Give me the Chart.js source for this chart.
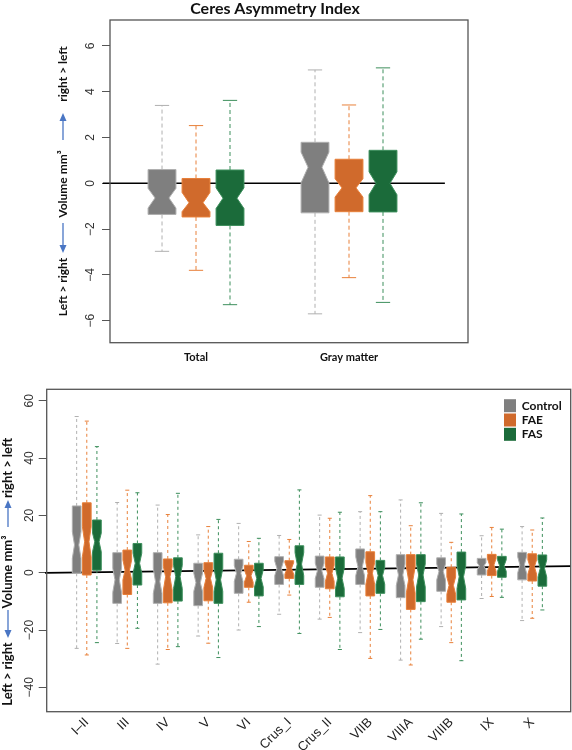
<!DOCTYPE html>
<html lang="en">
<head>
<meta charset="UTF-8">
<title>Ceres Asymmetry Index</title>
<script src="https://cdn.jsdelivr.net/npm/chart.js"></script>
<style>
  body { margin: 0; background: #fff; }
  canvas { position: absolute; left: 0; }
  #topChart { top: 0; }
  #bottomChart { top: 370px; }
</style>
</head>
<body>
<canvas id="topChart" width="572" height="370"></canvas>
<canvas id="bottomChart" width="572" height="380"></canvas>

<script>
// groups, in the order they sit inside each category
var groupNames = ["Control", "FAE", "FAS"];
var boxFill = ["#7f7f7f", "#d06a2c", "#1b6b3a"];
var boxEdge = ["#b0b0b0", "#e8803a", "#3d8f5c"];

// top panel, rows = categories, columns = Control, FAE, FAS
var topCategories = ["Total", "Gray matter"];
var topTicks = [-6, -4, -2, 0, 2, 4, 6];
var topMin     = [[-2.97, -3.80, -5.30], [-5.70, -4.12, -5.20]];
var topQ1      = [[-1.36, -1.47, -1.84], [-1.29, -1.24, -1.25]];
var topMed     = [[-0.64, -0.85, -0.65], [ 0.70, -0.20,  0.00]];
var topQ3      = [[ 0.60,  0.21,  0.58], [ 1.79,  1.05,  1.44]];
var topMax     = [[ 3.40,  2.52,  3.62], [ 4.95,  3.42,  5.04]];
var topNotchLo = [[-1.08, -1.24, -1.10], [ 0.02, -0.60, -0.50]];
var topNotchHi = [[-0.22, -0.40, -0.20], [ 1.36,  0.20,  0.50]];

// bottom panel (lobules)
var botCategories = ["I\u2013II", "III", "IV", "V", "VI", "Crus_I", "Crus_II", "VIIB", "VIIIA", "VIIIB", "IX", "X"];
var botTicks = [-40, -20, 0, 20, 40, 60];
var botMin = [
  [-26.4, -28.7, -24.4], [-24.7, -26.4, -19.4], [-31.9, -26.8, -25.8], [-22.1, -24.6, -29.6],
  [-20.0, -10.3, -18.8], [-14.5, -7.8, -21.2], [-16.2, -15.6, -26.8], [-20.9, -29.9, -19.8],
  [-30.5, -32.2, -23.2], [-18.8, -24.4, -30.7], [-9.0, -8.3, -8.6], [-16.7, -15.9, -13.0]];
var botQ1 = [
  [-0.2, -0.8, 0.9], [-10.7, -7.6, -4.3], [-10.7, -10.5, -9.9], [-11.5, -9.8, -10.7],
  [-7.2, -5.1, -8.1], [-4.1, -2.0, -4.1], [-5.1, -5.6, -8.4], [-4.1, -8.1, -7.2],
  [-8.7, -12.8, -10.1], [-6.5, -10.3, -9.5], [-0.8, -1.0, -1.6], [-2.5, -2.9, -4.7]];
var botMed = [
  [9.7, 10.8, 10.8], [-2.5, 0.9, 3.3], [-3.1, -1.4, -1.4], [-3.5, -2.0, -2.5],
  [-0.2, -1.1, -2.0], [1.5, 1.5, 3.0], [0.7, -0.2, -1.9], [2.1, -0.2, -1.0],
  [-0.8, -2.5, -0.8], [0.4, -4.4, -1.4], [2.3, 2.7, 2.4], [2.7, 2.1, 1.5]];
var botQ3 = [
  [23.3, 24.4, 18.4], [7.0, 7.9, 10.2], [7.0, 4.8, 5.2], [3.3, 3.5, 6.8],
  [4.7, 2.6, 3.3], [5.6, 4.2, 9.4], [5.8, 5.5, 5.5], [8.3, 7.3, 4.3],
  [6.3, 6.3, 6.3], [5.2, 1.9, 7.2], [5.0, 6.4, 5.7], [7.1, 6.6, 6.2]];
var botMax = [
  [54.5, 52.9, 44.0], [24.5, 28.8, 27.9], [23.6, 20.3, 27.7], [13.2, 16.1, 18.6],
  [17.2, 10.9, 12.0], [13.0, 11.6, 28.9], [20.1, 19.0, 21.1], [21.3, 26.9, 21.3],
  [25.4, 16.4, 24.4], [20.7, 10.6, 20.5], [12.9, 15.8, 15.2], [16.1, 14.9, 19.1]];
var botNotchLo = [
  [5.0, 5.6, 7.3], [-6.8, -2.5, -0.2], [-7.2, -6.0, -5.5], [-6.5, -5.2, -6.5],
  [-3.0, -3.3, -5.0], [-1.0, -0.5, -1.0], [-2.0, -3.0, -5.5], [-1.0, -4.0, -4.0],
  [-4.5, -7.0, -5.0], [-2.5, -7.5, -5.5], [1.0, 0.5, 0.5], [0.0, -0.5, -1.5]];
var botNotchHi = [
  [14.3, 16.0, 13.8], [1.5, 4.4, 6.8], [1.5, 2.1, 2.5], [-0.2, 1.0, 1.5],
  [2.5, 1.0, 1.0], [4.0, 3.5, 7.0], [3.3, 2.5, 1.5], [5.5, 3.5, 2.0],
  [3.0, 2.0, 3.0], [3.0, -1.5, 2.5], [3.5, 5.0, 4.5], [5.5, 4.5, 4.5]];

// ---- helpers ----
function minusFmt(v) { return v < 0 ? "\u2212" + (-v) : String(v); }

function drawBoxes(chart, p) {
  var ctx = chart.ctx, xs = chart.scales.x, ys = chart.scales.y;
  function X(v) { return xs.getPixelForValue(v); }
  function Y(v) { return ys.getPixelForValue(v); }
  for (var i = 0; i < p.cats.length; i++) {
    for (var j = 0; j < 3; j++) {
      var cx = p.center(i) + (j - 1);
      var lo = p.min[i][j], q1 = p.q1[i][j], md = p.med[i][j], q3 = p.q3[i][j], hi = p.max[i][j];
      var nl = p.nlo[i][j], nh = p.nhi[i][j], w = p.half;
      ctx.save();
      ctx.strokeStyle = boxEdge[j];
      ctx.lineWidth = 1;
      ctx.setLineDash(p.dash);
      ctx.beginPath();
      ctx.moveTo(X(cx), Y(q3)); ctx.lineTo(X(cx), Y(hi));
      ctx.moveTo(X(cx), Y(q1)); ctx.lineTo(X(cx), Y(lo));
      ctx.stroke();
      ctx.setLineDash([]);
      ctx.beginPath();
      ctx.moveTo(X(cx - p.cap), Y(hi)); ctx.lineTo(X(cx + p.cap), Y(hi));
      ctx.moveTo(X(cx - p.cap), Y(lo)); ctx.lineTo(X(cx + p.cap), Y(lo));
      ctx.stroke();
      var pts = [[cx - w, q1], [cx - w, nl], [cx - w / 2, md], [cx - w, nh], [cx - w, q3],
                 [cx + w, q3], [cx + w, nh], [cx + w / 2, md], [cx + w, nl], [cx + w, q1]];
      ctx.beginPath();
      pts.forEach(function (pt, k) {
        if (k === 0) ctx.moveTo(X(pt[0]), Y(pt[1])); else ctx.lineTo(X(pt[0]), Y(pt[1]));
      });
      ctx.closePath();
      ctx.fillStyle = boxFill[j];
      ctx.fill();
      ctx.stroke();
      ctx.restore();
    }
  }
}

function drawArrow(ctx, x, tail, tip) {
  var dir = tip < tail ? -1 : 1;
  ctx.save();
  ctx.strokeStyle = "#4a76c4";
  ctx.fillStyle = "#4a76c4";
  ctx.lineWidth = 1.3;
  ctx.beginPath();
  ctx.moveTo(x, tail); ctx.lineTo(x, tip - dir * 6);
  ctx.stroke();
  ctx.beginPath();
  ctx.moveTo(x, tip); ctx.lineTo(x - 3.5, tip - dir * 8); ctx.lineTo(x + 3.5, tip - dir * 8);
  ctx.closePath();
  ctx.fill();
  ctx.restore();
}

function drawVText(ctx, text, x, y, font) {
  ctx.save();
  ctx.translate(x, y);
  ctx.rotate(-Math.PI / 2);
  ctx.font = font;
  ctx.fillStyle = "#111";
  ctx.textAlign = "center";
  ctx.textBaseline = "middle";
  ctx.fillText(text, 0, 0);
  ctx.restore();
}

function drawYTitle(ctx, t) {
  drawVText(ctx, "right > left", t.x, t.rl, t.font);
  drawArrow(ctx, t.x, t.upTail, t.upTip);
  drawVText(ctx, "Volume mm\u00b3", t.x, t.vol, t.font);
  drawArrow(ctx, t.x, t.downTail, t.downTip);
  drawVText(ctx, "Left > right", t.x, t.lr, t.font);
}

function drawFrame(chart) {
  var a = chart.chartArea, ctx = chart.ctx;
  ctx.save();
  ctx.strokeStyle = "#555";
  ctx.lineWidth = 1.3;
  ctx.strokeRect(a.left, a.top, a.right - a.left, a.bottom - a.top);
  ctx.restore();
}

function refLinePlugin(x0, y0, x1, y1) {
  return {
    id: "refLine",
    beforeDatasetsDraw: function (chart) {
      var xs = chart.scales.x, ys = chart.scales.y, ctx = chart.ctx;
      ctx.save();
      ctx.strokeStyle = "#000";
      ctx.lineWidth = 1.6;
      ctx.beginPath();
      ctx.moveTo(xs.getPixelForValue(x0), ys.getPixelForValue(y0));
      ctx.lineTo(xs.getPixelForValue(x1), ys.getPixelForValue(y1));
      ctx.stroke();
      ctx.restore();
    }
  };
}

function medianSets(center, med, n) {
  return groupNames.map(function (g, j) {
    var pts = [];
    for (var i = 0; i < n; i++) pts.push({ x: center(i) + (j - 1), y: med[i][j] });
    return { label: g, data: pts, pointRadius: 0, backgroundColor: boxFill[j] };
  });
}

// ---- top chart ----
var topCenter = function (i) { return [2, 6.5][i]; };

new Chart(document.getElementById("topChart"), {
  type: "scatter",
  data: { datasets: medianSets(topCenter, topMed, topCategories.length) },
  options: {
    responsive: false,
    animation: false,
    layout: { padding: { top: 20, right: 104, left: 0, bottom: 0 } },
    plugins: { legend: { display: false }, tooltip: { enabled: false } },
    scales: {
      x: {
        type: "linear", min: -0.53, max: 10.0,
        afterBuildTicks: function (s) { s.ticks = topCategories.map(function (c, i) { return { value: topCenter(i) }; }); },
        afterFit: function (s) { s.height = 27.3; },
        grid: { display: false, drawTicks: false },
        border: { display: false },
        ticks: {
          autoSkip: false, maxRotation: 0, padding: 8, color: "#111",
          font: { family: "Lato", weight: "bold", size: 11 },
          callback: function (v, i) { return topCategories[i]; }
        }
      },
      y: {
        min: -6.96, max: 7.13,
        afterBuildTicks: function (s) { s.ticks = topTicks.map(function (v) { return { value: v }; }); },
        afterFit: function (s) { s.width = 110; },
        grid: { drawOnChartArea: false, drawTicks: true, tickLength: 8, color: "#555" },
        border: { display: false },
        ticks: {
          minRotation: 90, maxRotation: 90, crossAlign: "center", padding: 4.5, color: "#333",
          font: { family: "Liberation Sans", size: 12 },
          callback: function (v) { return minusFmt(v); }
        }
      }
    }
  },
  plugins: [refLinePlugin(-0.74, 0, 9.32, 0), {
    id: "boxesTop",
    afterDatasetsDraw: function (chart) {
      drawBoxes(chart, { cats: topCategories, center: topCenter, min: topMin, q1: topQ1, med: topMed,
        q3: topQ3, max: topMax, nlo: topNotchLo, nhi: topNotchHi, half: 0.41, cap: 0.21, dash: [4, 3] });
      drawFrame(chart);
      var ctx = chart.ctx;
      ctx.save();
      ctx.font = "bold 16px Lato";
      ctx.fillStyle = "#111";
      ctx.textAlign = "center";
      ctx.textBaseline = "middle";
      ctx.fillText("Ceres Asymmetry Index", 275, 8.5);
      ctx.restore();
      drawYTitle(ctx, { x: 63, font: "bold 12px Lato", rl: 74, upTail: 140, upTip: 113,
        vol: 184, downTail: 223, downTip: 253, lr: 287 });
    }
  }]
});

// ---- bottom chart ----
var botCenter = function (i) { return 2 + 4 * i; };

new Chart(document.getElementById("bottomChart"), {
  type: "scatter",
  data: { datasets: medianSets(botCenter, botMed, botCategories.length) },
  options: {
    responsive: false,
    animation: false,
    layout: { padding: { top: 19.3, right: 1.3, left: 0, bottom: 0 } },
    plugins: { legend: { display: false }, tooltip: { enabled: false } },
    scales: {
      x: {
        type: "linear", min: -1.96, max: 49.8,
        afterBuildTicks: function (s) { s.ticks = botCategories.map(function (c, i) { return { value: botCenter(i) }; }); },
        afterFit: function (s) { s.height = 38.3; },
        grid: { display: false, drawTicks: false },
        border: { display: false },
        ticks: {
          autoSkip: false, minRotation: 45, maxRotation: 45, padding: 3, color: "#222",
          font: { family: "Liberation Sans", size: 13 },
          callback: function (v, i) { return botCategories[i]; }
        }
      },
      y: {
        min: -48.5, max: 64,
        afterBuildTicks: function (s) { s.ticks = botTicks.map(function (v) { return { value: v }; }); },
        afterFit: function (s) { s.width = 46.7; },
        grid: { drawOnChartArea: false, drawTicks: true, tickLength: 8, color: "#555" },
        border: { display: false },
        ticks: {
          minRotation: 90, maxRotation: 90, crossAlign: "center", padding: -1, color: "#333",
          font: { family: "Liberation Sans", size: 12 },
          callback: function (v) { return minusFmt(v); }
        }
      }
    }
  },
  plugins: [refLinePlugin(-2.13, -0.05, 49.8, 2.3), {
    id: "boxesBottom",
    afterDatasetsDraw: function (chart) {
      drawBoxes(chart, { cats: botCategories, center: botCenter, min: botMin, q1: botQ1, med: botMed,
        q3: botQ3, max: botMax, nlo: botNotchLo, nhi: botNotchHi, half: 0.43, cap: 0.2, dash: [3, 3] });
      drawFrame(chart);
      var ctx = chart.ctx, a = chart.chartArea;
      // legend, top right inside the plot
      ctx.save();
      ctx.font = "bold 12px Lato";
      ctx.textBaseline = "middle";
      groupNames.forEach(function (g, j) {
        var cy = a.top + 16.4 + j * 14.3;
        ctx.fillStyle = boxFill[j];
        ctx.fillRect(a.right - 66.7, cy - 6.5, 12, 13);
        ctx.fillStyle = "#111";
        ctx.fillText(g, a.right - 49, cy);
      });
      ctx.restore();
      drawYTitle(ctx, { x: 8, font: "bold 13px Lato", rl: 98, upTail: 157, upTip: 130,
        vol: 202, downTail: 240, downTip: 268, lr: 304 });
    }
  }]
});
</script>
</body>
</html>
